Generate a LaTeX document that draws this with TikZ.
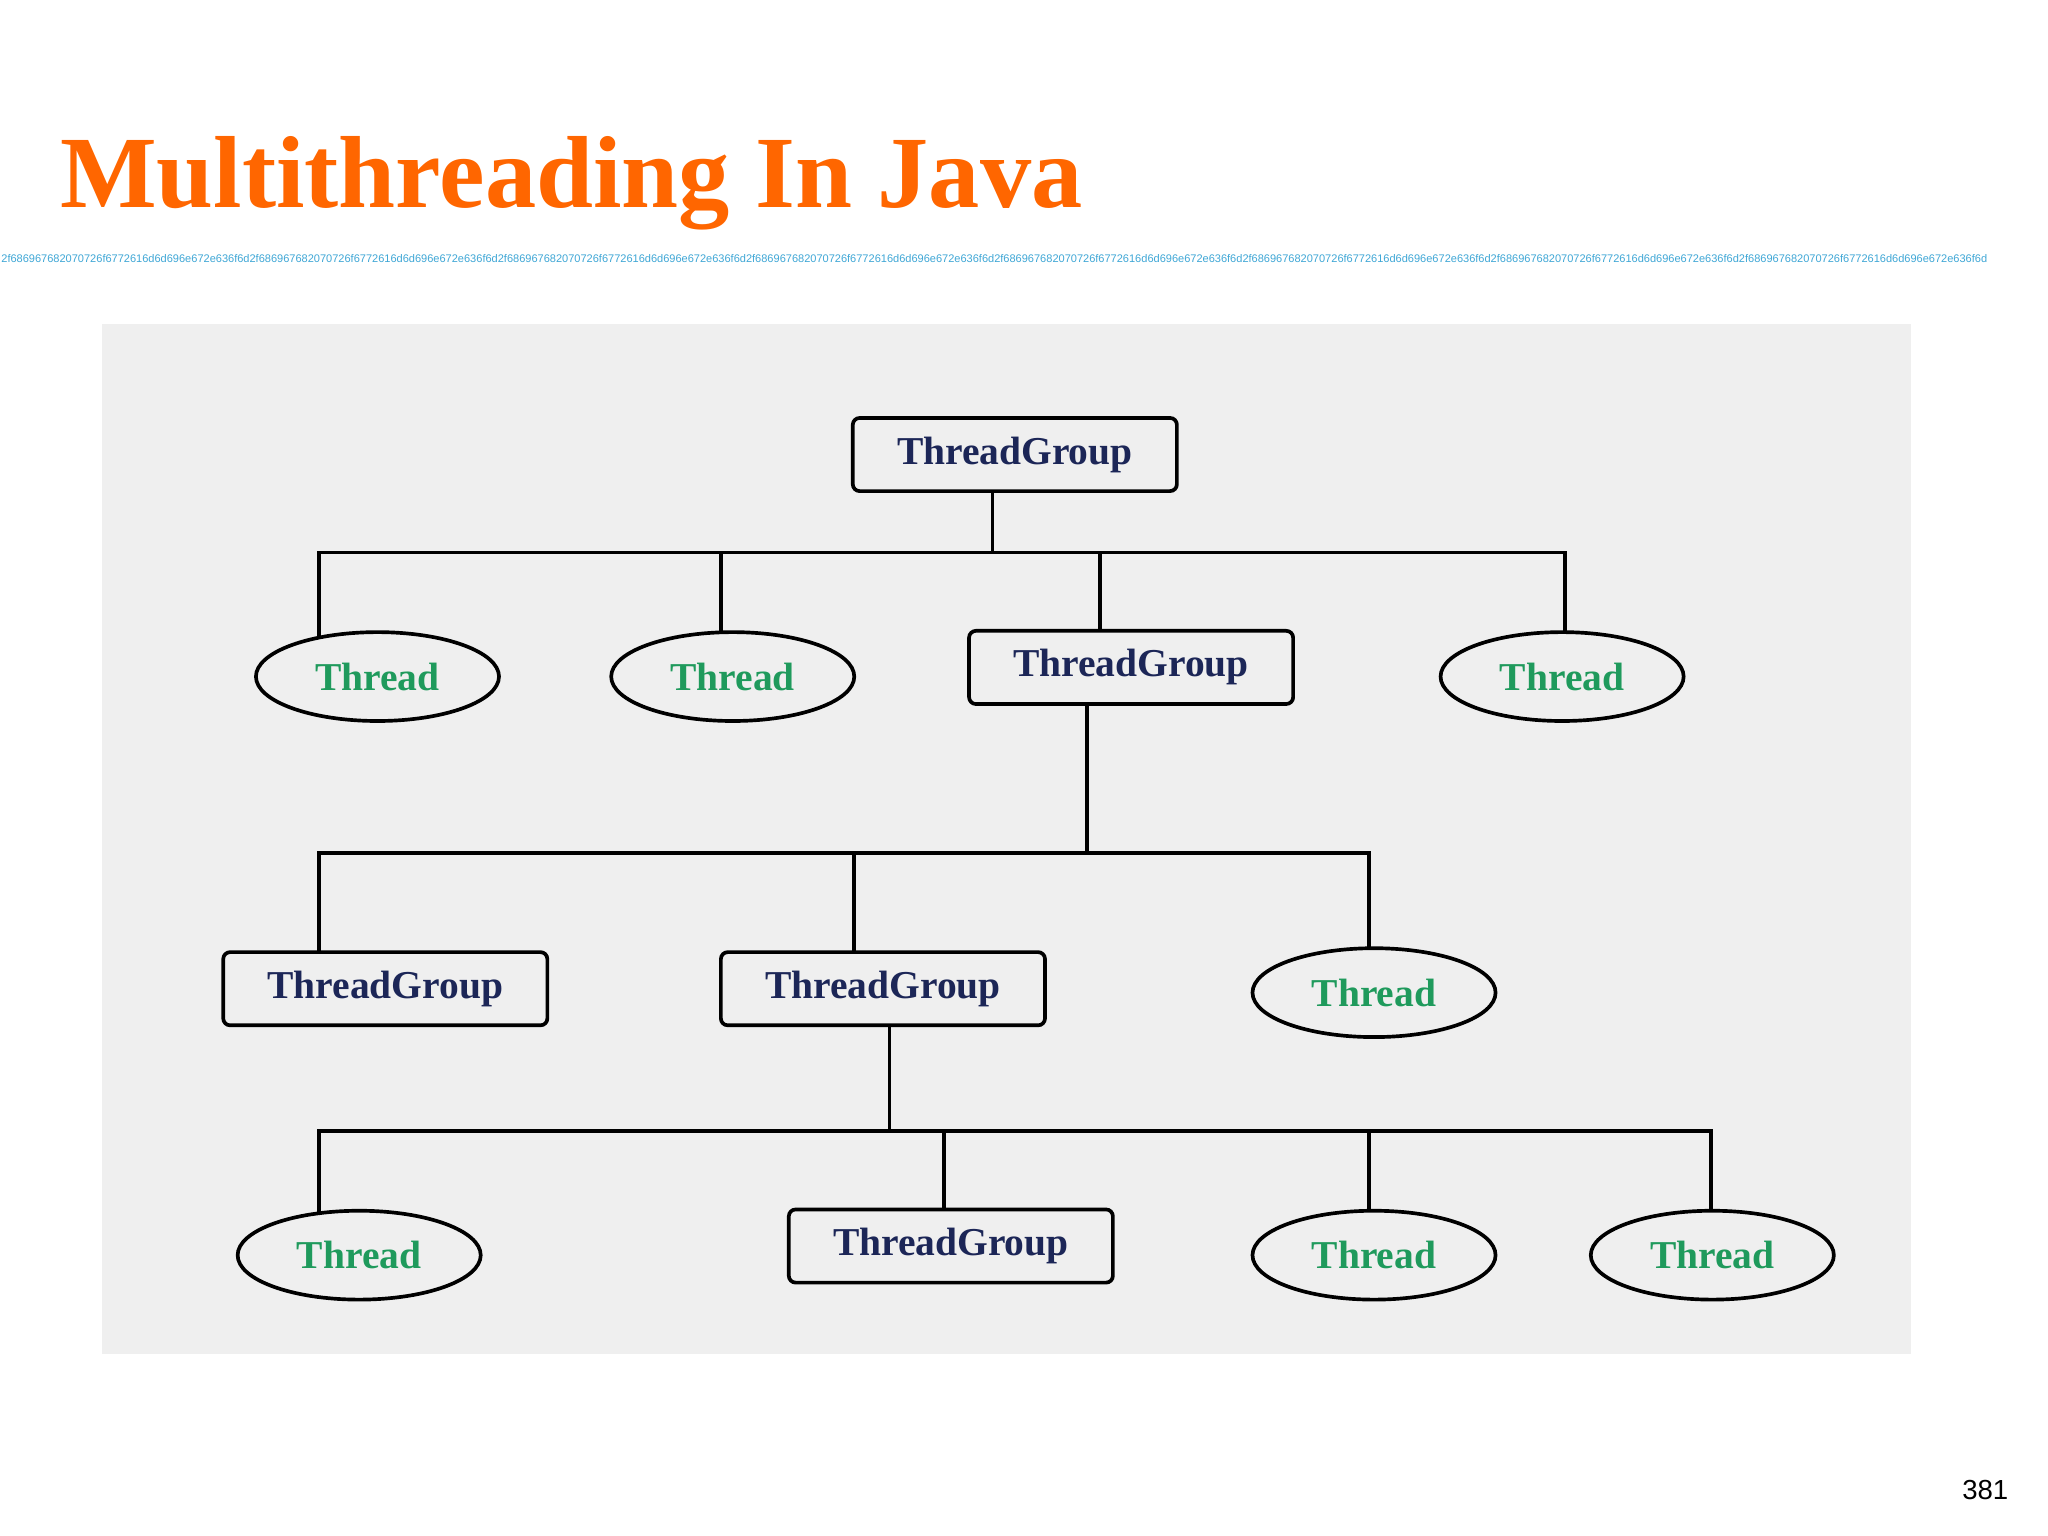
\documentclass[tikz,border=0pt]{standalone}
\usepackage{fontspec}
\setmainfont{Liberation Serif}
\setsansfont{Liberation Sans}
\usepackage{xcolor}
\usetikzlibrary{shapes.geometric}
\definecolor{ttl}{HTML}{FF6600}
\definecolor{pnl}{HTML}{EFEFEF}
\definecolor{nv}{HTML}{1C2657}
\definecolor{grn}{HTML}{1F9A5C}
\definecolor{hx}{HTML}{3FA7D6}

\begin{document}
\begin{tikzpicture}[
            x = 0.01cm, y = -0.01cm, % pixel grid of the slide
            semithick
        ]

        \tikzstyle{group}=[
            draw = black, line width = 0.8pt, fill = pnl,
            rounded corners = 1.5pt,
            minimum width = 2.48cm, minimum height = 0.56cm,
            text = nv, font = \fontsize{8.6}{9}\selectfont\bfseries
        ]
        \tikzstyle{thread}=[
            draw = black, line width = 0.8pt, fill = pnl, ellipse,
            minimum width = 1.86cm, minimum height = 0.68cm, inner sep = 0pt,
            text = grn, font = \fontsize{8.6}{9}\selectfont\bfseries
        ]
        \tikzstyle{link}=[draw = black, line width = 0.8pt]

        \useasboundingbox (0,0) rectangle (1568,1176);
        \fill[white] (0,0) rectangle (1568,1176);
        \node[anchor = west, text = ttl, inner sep = 0pt, font = \fontsize{22.3}{24}\selectfont\bfseries] (title) at (45,140) {Multithreading In Java};
        \node[anchor = west, text = hx, inner sep = 0pt, font = \fontsize{2.4}{3}\selectfont\sffamily] (hex) at (0,198)
            {2f686967682070726f6772616d6d696e672e636f6d2f686967682070726f6772616d6d696e672e636f6d2f686967682070726f6772616d6d696e672e636f6d2f686967682070726f6772616d6d696e672e636f6d2f686967682070726f6772616d6d696e672e636f6d2f686967682070726f6772616d6d696e672e636f6d2f686967682070726f6772616d6d696e672e636f6d2f686967682070726f6772616d6d696e672e636f6d};
        \fill[pnl] (78,248) rectangle (1463,1037);

        % bus points
        \coordinate (r) at (760,423);
        \coordinate (ga) at (832,653);
        \coordinate (gb) at (681,866);

        \path[link] (760,376) -- (r);
        \path[link] (244,518) |- (1198,423) -- (1198,518);
        \path[link] (552,423) -- (552,518);
        \path[link] (842,423) -- (842,511);
        \path[link] (832,540) -- (ga);
        \path[link] (244,757) |- (1048,653) -- (1048,760);
        \path[link] (654,653) -- (654,757);
        \path[link] (681,785) -- (gb);
        \path[link] (244,961) |- (1310,866) -- (1310,961);
        \path[link] (723,866) -- (723,954);
        \path[link] (1048,866) -- (1048,961);

        \node[group] (g0) at (777,348) {ThreadGroup};
        \node[thread] (t1) at (289,518) {Thread};
        \node[thread] (t2) at (561,518) {Thread};
        \node[group] (g1) at (866,511) {ThreadGroup};
        \node[thread] (t3) at (1196,518) {Thread};
        \node[group] (g2) at (295,757) {ThreadGroup};
        \node[group] (g3) at (676,757) {ThreadGroup};
        \node[thread] (t4) at (1052,760) {Thread};
        \node[thread] (t5) at (275,961) {Thread};
        \node[group] (g4) at (728,954) {ThreadGroup};
        \node[thread] (t6) at (1052,961) {Thread};
        \node[thread] (t7) at (1311,961) {Thread};

        \node[font = \fontsize{6}{7}\selectfont\sffamily] (page) at (1520,1141) {381};
    \end{tikzpicture}
\end{document}
